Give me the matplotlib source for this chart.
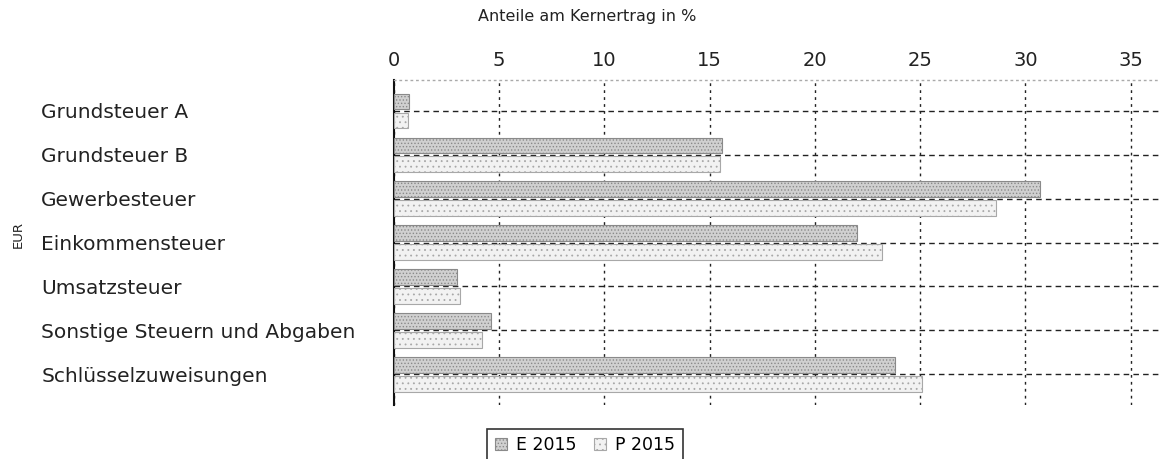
import matplotlib
matplotlib.use("Agg")
import matplotlib.pyplot as plt
import numpy as np

categories = ["Grundsteuer A", "Grundsteuer B", "Gewerbesteuer", "Einkommensteuer",
              "Umsatzsteuer", "Sonstige Steuern und Abgaben", "Schlüsselzuweisungen"]
e2015 = [0.7, 15.6, 30.7, 22.0, 3.0, 4.6, 23.8]
p2015 = [0.65, 15.5, 28.6, 23.2, 3.15, 4.2, 25.1]
xticks = [0, 5, 10, 15, 20, 25, 30, 35]

plt.rcParams['font.family'] = ['DejaVu Sans']
plt.rcParams['hatch.linewidth'] = 0.6

fig = plt.figure(figsize=(11.64, 4.59), dpi=100)
ax = fig.add_axes([394/1164, 1-405/459, (1160-394)/1164, (405-80)/459])

y = np.arange(len(categories))
h = 0.36
ax.barh(y - 0.21, e2015, height=h, facecolor='#d0d0d0', edgecolor='#8a8a8a',
        hatch='.....', linewidth=0.8, label='E 2015', zorder=3)
ax.barh(y + 0.22, p2015, height=h, facecolor='#f2f2f2', edgecolor='#a8a8a8',
        hatch='...', linewidth=0.8, label='P 2015', zorder=3)

ax.set_xlim(0, 36.4)
ax.set_ylim(len(categories) - 1 + 0.7, -0.7)
ax.set_xticks(xticks)
ax.set_yticks(y)
ax.set_yticklabels(categories, fontsize=14.5, color='#222222')
ax.xaxis.tick_top()
ax.tick_params(axis='x', length=0, pad=7, labelsize=14, labelcolor='#222222')
ax.tick_params(axis='y', length=0, pad=254)
for t in ax.get_yticklabels():
    t.set_ha('left')

ax.grid(axis='x', linestyle=(0, (2, 3)), color='#222222', linewidth=1.0, zorder=1)
ax.grid(axis='y', linestyle=(0, (4, 3)), color='#222222', linewidth=1.0, zorder=1)

for s in ['right', 'bottom']:
    ax.spines[s].set_visible(False)
ax.spines['left'].set_linewidth(1.5)
ax.spines['left'].set_color('#111111')
ax.spines['top'].set_linestyle((0, (1, 3)))
ax.spines['top'].set_color('#aaaaaa')
ax.spines['top'].set_linewidth(1.0)

fig.text(587/1164, 1-17/459, "Anteile am Kernertrag in %", ha='center', va='center',
         fontsize=11.5, color='#222222')
fig.text(18/1164, 1-235/459, "EUR", rotation=90, ha='center', va='center',
         fontsize=9.5, color='#222222')

leg = ax.legend(loc='upper center', bbox_to_anchor=(585/1164, 1-420/459),
                bbox_transform=fig.transFigure, ncol=2, fontsize=12.5,
                frameon=True, fancybox=False, edgecolor='black', handlelength=0.7,
                handleheight=0.7, columnspacing=1.0, handletextpad=0.5, borderpad=0.45)
leg.get_frame().set_linewidth(1.2)

fig.savefig("out.png", dpi=100)
